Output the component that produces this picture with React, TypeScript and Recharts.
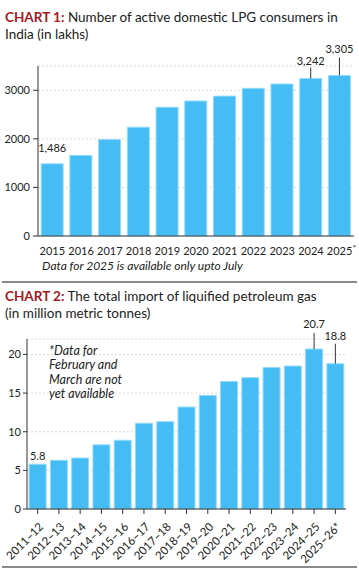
import React from "react";
import { BarChart, Bar, XAxis, YAxis, CartesianGrid, LabelList } from "recharts";

// chart 1: active domestic LPG consumers (lakhs)
const years = ["2015", "2016", "2017", "2018", "2019", "2020", "2021", "2022", "2023", "2024", "2025*"];
const consumers = [1486, 1660, 1985, 2240, 2650, 2780, 2880, 3040, 3130, 3242, 3305];
const consumerTicks = [0, 1000, 2000, 3000];

// chart 2: LPG imports (million metric tonnes)
const fiscalYears = [
  "2011–12", "2012–13", "2013–14", "2014–15", "2015–16", "2016–17", "2017–18", "2018–19",
  "2019–20", "2020–21", "2021–22", "2022–23", "2023–24", "2024–25", "2025–26*",
];
const imports = [5.8, 6.3, 6.6, 8.3, 8.9, 11.1, 11.3, 13.2, 14.7, 16.5, 17.0, 18.3, 18.5, 20.7, 18.8];
const importTicks = [0, 5, 10, 15, 20];

const FONT = "Lato, 'Noto Sans', sans-serif";
const BAR = "#45bdf4";
const BAR_EDGE = "#93dbfb";
const INK = "#222";
const RED = "#a3191e";

const data1 = years.map((year, i) => ({ year, value: consumers[i] }));
const data2 = fiscalYears.map((year, i) => ({ year, value: imports[i] }));

// index -> [leader line length, gap above leader]
const makeLabel =
  (marks: Record<number, [number, number]>, fmt: (v: number) => string) =>
  (props: any) => {
    const { x, y, width, value, index } = props;
    const m = marks[index];
    if (!m) return null;
    const cx = Number(x) + Number(width) / 2;
    const top = Number(y);
    return (
      <g>
        {m[0] > 0 && <line x1={cx} x2={cx} y1={top} y2={top - m[0]} stroke="#333" strokeWidth={1} />}
        <text x={cx} y={top - m[0] - m[1]} textAnchor="middle" fontSize={11} fill={INK} fontFamily={FONT}>
          {fmt(Number(value))}
        </text>
      </g>
    );
  };

// year tick, with a small raised asterisk hanging off to the right
const YearTick = (props: any) => {
  const { x, y, payload } = props;
  const label = String(payload.value);
  const star = label.endsWith("*");
  const text = star ? label.slice(0, -1) : label;
  return (
    <g>
      <text x={x} y={y + 11} textAnchor="middle" fontSize={11} fill={INK} fontFamily={FONT}>
        {text}
      </text>
      {star && (
        <text x={x + 13} y={y + 7} fontSize={8} fill={INK} fontFamily={FONT}>
          *
        </text>
      )}
    </g>
  );
};

const AngledTick = (props: any) => {
  const { x, y, payload } = props;
  return (
    <g transform={`translate(${x + 4},${y + 9})`}>
      <text transform="rotate(-45)" textAnchor="end" dy="0.3em" fontSize={11.5} fill={INK} fontFamily={FONT}>
        {payload.value}
      </text>
    </g>
  );
};

const titleStyle: React.CSSProperties = {
  position: "absolute",
  left: 5,
  width: 354,
  fontFamily: FONT,
  fontSize: 13.5,
  lineHeight: "17px",
  color: INK,
  whiteSpace: "nowrap",
};

const noteStyle: React.CSSProperties = {
  position: "absolute",
  fontFamily: FONT,
  fontStyle: "italic",
  fontSize: 12.5,
  color: INK,
};

const rule = (top: number): React.CSSProperties => ({
  position: "absolute",
  left: 2,
  width: 355,
  top,
  height: 2,
  background: "#8a8a8a",
});

const tickText = { fontSize: 11, fill: INK, fontFamily: FONT };

export default function App() {
  return (
    <div style={{ position: "absolute", left: 0, top: 0, width: 359, height: 570, background: "#fff" }}>
      <div style={{ ...titleStyle, top: 9 }}>
        <b style={{ color: RED }}>CHART 1:</b> Number of active domestic LPG consumers in
        <br />
        India (in lakhs)
      </div>

      <div style={{ position: "absolute", left: 0, top: 0 }}>
        <BarChart width={359} height={260} data={data1} margin={{ top: 66, right: 5, bottom: 0, left: 0 }} barCategoryGap="11%">
          <CartesianGrid vertical={false} stroke="#dcdcdc" strokeDasharray="2 2" />
          <XAxis
            dataKey="year"
            height={24}
            tickLine={false}
            axisLine={{ stroke: "#333" }}
            tick={<YearTick />}
            interval={0}
          />
          <YAxis
            width={38}
            domain={[0, 3500]}
            ticks={consumerTicks}
            tickSize={5}
            tickMargin={3}
            axisLine={{ stroke: "#333" }}
            tickLine={{ stroke: "#333" }}
            tick={tickText}
          />
          <Bar dataKey="value" fill={BAR} stroke={BAR_EDGE} strokeWidth={1} isAnimationActive={false}>
            <LabelList
              dataKey="value"
              content={makeLabel({ 0: [0, 12], 9: [11, 3], 10: [18, 4] }, (v) => v.toLocaleString("en-US"))}
            />
          </Bar>
        </BarChart>
      </div>

      <div style={{ ...noteStyle, fontSize: 12, left: 42, top: 258 }}>Data for 2025 is available only upto July</div>

      <div style={rule(281)} />

      <div style={{ ...titleStyle, top: 288 }}>
        <b style={{ color: RED }}>CHART 2:</b> The total import of liquified petroleum gas
        <br />
        (in million metric tonnes)
      </div>

      <div style={{ position: "absolute", left: 0, top: 283 }}>
        <BarChart width={359} height={287} data={data2} margin={{ top: 56, right: 13, bottom: 0, left: 0 }} barCategoryGap="10%">
          <CartesianGrid vertical={false} stroke="#dcdcdc" strokeDasharray="2 2" />
          <XAxis
            dataKey="year"
            height={61}
            tickSize={5}
            axisLine={{ stroke: "#333" }}
            tickLine={{ stroke: "#333" }}
            tick={<AngledTick />}
            interval={0}
          />
          <YAxis
            width={27}
            domain={[0, 22]}
            ticks={importTicks}
            tickSize={4}
            tickMargin={2}
            axisLine={{ stroke: "#333" }}
            tickLine={{ stroke: "#333" }}
            tick={tickText}
          />
          <Bar dataKey="value" fill={BAR} stroke={BAR_EDGE} strokeWidth={1} isAnimationActive={false}>
            <LabelList
              dataKey="value"
              content={makeLabel({ 0: [0, 4], 13: [16, 5], 14: [20, 4] }, (v) => v.toFixed(1))}
            />
          </Bar>
        </BarChart>
      </div>

      <div style={{ ...noteStyle, left: 49, top: 344, lineHeight: "14.3px" }}>
        *Data for
        <br />
        February and
        <br />
        March are not
        <br />
        yet available
      </div>

      <div style={rule(566)} />
    </div>
  );
}
